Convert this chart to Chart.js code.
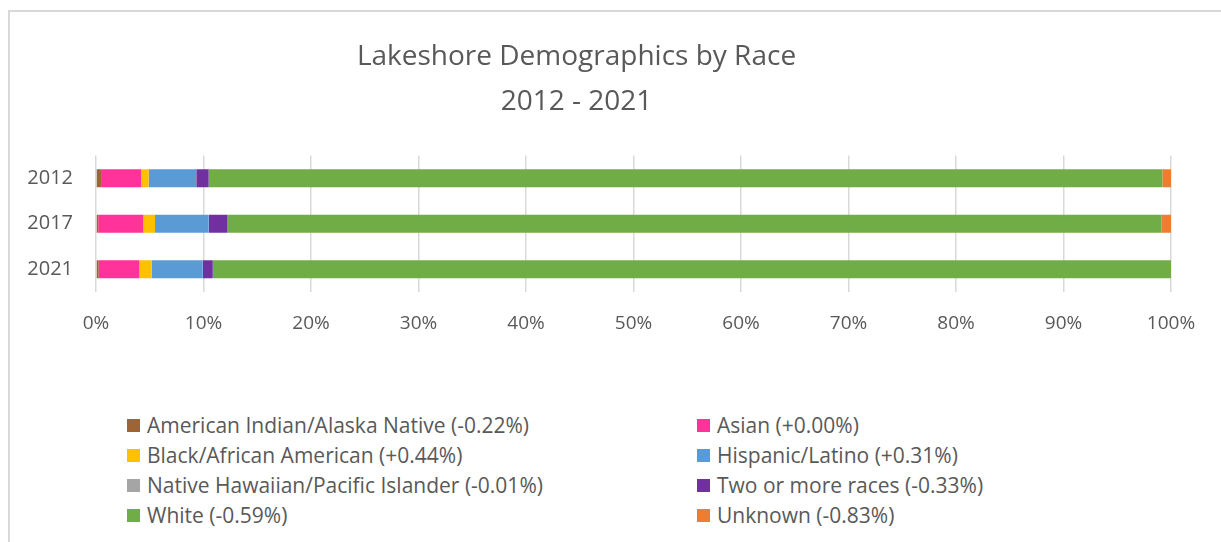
<!DOCTYPE html>
<html lang="en">
<head>
<meta charset="UTF-8">
<title>Lakeshore Demographics by Race</title>
<script src="https://cdn.jsdelivr.net/npm/chart.js"></script>
<style>
    body {
        margin: 0;
        background: #ffffff;
        font-family: 'Open Sans', sans-serif;
    }
    .frame {
        position: relative;
        width: 1221px;
        height: 542px;
        overflow: hidden;
    }
    .border {
        position: absolute;
        left: 8px;
        top: 10px;
        right: 0;
        bottom: -10px;
        border-top: 2px solid #d9d9d9;
        border-left: 2px solid #d9d9d9;
    }
    #chart {
        position: absolute;
        left: 0;
        top: 0;
    }
    .title {
        position: absolute;
        left: 0;
        top: 32px;
        width: 1153px;
        text-align: center;
        color: #595959;
        font-size: 28px;
        line-height: 45px;
    }
    .legend {
        position: absolute;
        left: 127px;
        top: 410px;
        display: grid;
        grid-template-columns: 570px 500px;
        color: #595959;
        font-size: 21px;
    }
    .legend-item {
        display: flex;
        align-items: center;
        height: 30px;
        white-space: nowrap;
    }
    .legend-box {
        width: 13px;
        height: 13px;
        margin-right: 7px;
        flex: none;
    }
</style>
</head>
<body>
<div class="frame">
    <div class="border"></div>
    <canvas id="chart" width="1221" height="345"></canvas>
    <div class="title">Lakeshore Demographics by Race<br>2012 - 2021</div>
    <div class="legend" id="legend"></div>
</div>

<script>
    // years on the category axis
    const years = ['2012', '2017', '2021'];

    // legend labels (with the change shown in the source)
    const groupNames = [
        'American Indian/Alaska Native (-0.22%)',
        'Asian (+0.00%)',
        'Black/African American (+0.44%)',
        'Hispanic/Latino (+0.31%)',
        'Native Hawaiian/Pacific Islander (-0.01%)',
        'Two or more races (-0.33%)',
        'White (-0.59%)',
        'Unknown (-0.83%)'
    ];

    // share of population in percent, one value per year (2012, 2017, 2021)
    const americanIndian = [0.47, 0.21, 0.25];
    const asian = [3.72, 4.19, 3.78];
    const black = [0.71, 1.09, 1.15];
    const hispanic = [4.41, 4.99, 4.75];
    const nativeHawaiian = [0.02, 0.02, 0.02];
    const twoOrMore = [1.15, 1.73, 0.91];
    const white = [88.72, 86.87, 89.14];
    const unknown = [0.80, 0.90, 0.00];

    const xTicks = [0, 10, 20, 30, 40, 50, 60, 70, 80, 90, 100];

    const colors = ['#9e6434', '#ff3399', '#ffc000', '#5b9bd5', '#a5a5a5', '#7030a0', '#70ad47', '#ed7d31'];
    const series = [americanIndian, asian, black, hispanic, nativeHawaiian, twoOrMore, white, unknown];

    const textColor = '#595959';

    const datasets = series.map((values, i) => ({
        label: groupNames[i],
        data: values,
        backgroundColor: colors[i],
        borderWidth: 0,
        barPercentage: 0.4,
        categoryPercentage: 1.0
    }));

    new Chart(document.getElementById('chart'), {
        type: 'bar',
        data: { labels: years, datasets: datasets },
        options: {
            indexAxis: 'y',
            responsive: false,
            animation: false,
            layout: { padding: { left: 8, right: 50, top: 155.5, bottom: 0 } },
            plugins: {
                legend: { display: false },
                tooltip: { enabled: false },
                title: { display: false }
            },
            scales: {
                x: {
                    stacked: true,
                    min: 0,
                    max: 100,
                    afterBuildTicks: (axis) => { axis.ticks = xTicks.map(v => ({ value: v })); },
                    afterFit: (axis) => { axis.height = 53; },
                    grid: { color: '#d9d9d9', lineWidth: 1.5, drawTicks: false },
                    border: { display: false },
                    ticks: {
                        color: textColor,
                        font: { family: 'Open Sans', size: 19 },
                        padding: 20,
                        maxRotation: 0,
                        callback: (v) => v + '%'
                    }
                },
                y: {
                    stacked: true,
                    afterFit: (axis) => { axis.width = 88; },
                    grid: { display: false, drawTicks: false },
                    border: { display: false },
                    ticks: {
                        color: textColor,
                        font: { family: 'Open Sans', size: 20 },
                        padding: 23
                    }
                }
            }
        }
    });

    // legend in two columns, filled row by row
    const legendDiv = document.getElementById('legend');
    groupNames.forEach((name, i) => {
        const item = document.createElement('div');
        item.className = 'legend-item';
        const box = document.createElement('span');
        box.className = 'legend-box';
        box.style.background = colors[i];
        const label = document.createElement('span');
        label.textContent = name;
        item.appendChild(box);
        item.appendChild(label);
        legendDiv.appendChild(item);
    });
</script>
</body>
</html>
